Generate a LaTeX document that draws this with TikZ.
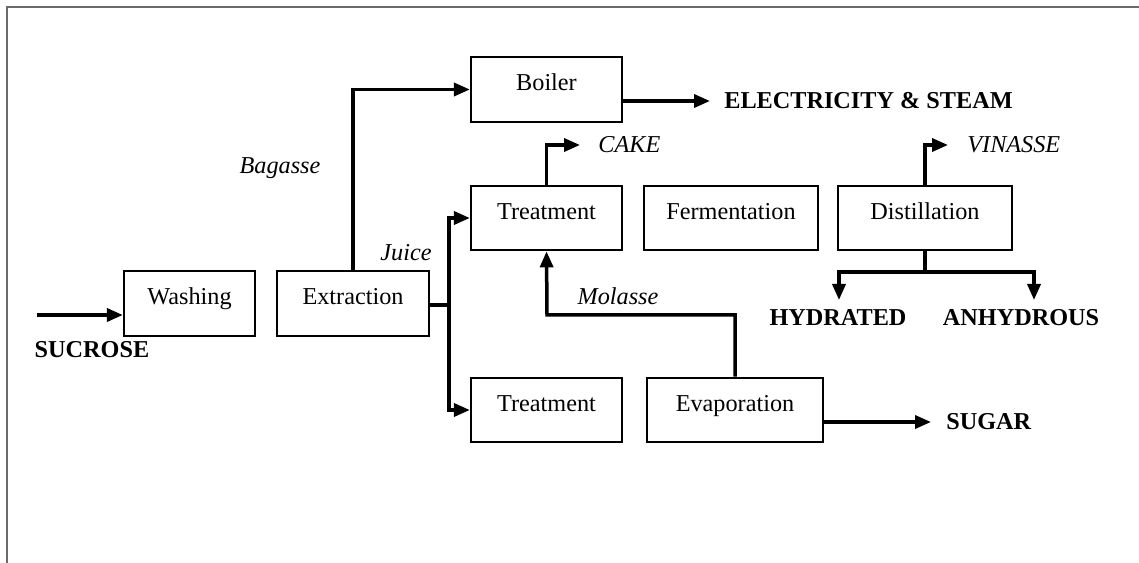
\documentclass[tikz,border=0pt]{standalone}
\usepackage{fontspec}
\setmainfont{Liberation Serif}
\usetikzlibrary{arrows.meta}
\definecolor{framegray}{HTML}{6B6B6B}
\newcommand{\diagfont}{\fontsize{13.8}{16}\selectfont}
\begin{document}
\begin{tikzpicture}[x=0.02cm, y=-0.02cm, font=\diagfont,
	box/.style={draw=black, text=black, shape=rectangle, line width=0.045cm, minimum height=1.29cm, text height=0.7em, text depth=0.58em},
	flow/.style={line width=0.07cm, -{Triangle[length=0.32cm, width=0.26cm]}},
	link/.style={line width=0.07cm},
	outname/.style={inner sep=0pt, font=\diagfont\bfseries},
	byname/.style={inner sep=0pt, font=\diagfont\itshape}]
	\useasboundingbox (0,0) rectangle (1139,563);
	\draw[framegray, line width=0.04cm] (7,563) -- (7,7) -- (1139,7);

	\node[box, minimum width=2.62cm] (washing) at (189.5,303.5) {Washing};
	\node[box, minimum width=3.04cm] (extraction) at (353,303.5) {Extraction};
	\node[box, minimum width=3.02cm] (boiler) at (546.5,89.5) {Boiler};
	\node[box, minimum width=3.02cm] (treatA) at (546.5,218) {Treatment};
	\node[box, minimum width=3.48cm] (fermentation) at (731,218) {Fermentation};
	\node[box, minimum width=3.48cm] (distillation) at (925,218) {Distillation};
	\node[box, minimum width=3.02cm] (treatB) at (546.5,410) {Treatment};
	\node[box, minimum width=3.52cm] (evaporation) at (735,410) {Evaporation};

	\node[outname] (sucrose) at (92,350) {SUCROSE};
	\node[outname, anchor=west] (electricity) at (724,101) {ELECTRICITY \& STEAM};
	\node[byname, anchor=west] (cake) at (598,145) {CAKE};
	\node[byname, anchor=west] (vinasse) at (967,145) {VINASSE};
	\node[byname] (bagasse) at (280,168) {Bagasse};
	\node[byname] (juice) at (406,253) {Juice};
	\node[byname] (molasse) at (618,296) {Molasse};
	\node[outname] (hydrated) at (838,318) {HYDRATED};
	\node[outname] (anhydrous) at (1021,318) {ANHYDROUS};
	\node[outname, anchor=west] (sugar) at (946,422) {SUGAR};

	\coordinate (feed) at (37,315);
	\coordinate (juicesplit) at (449,305);
	\coordinate (molbend) at (547,315);
	\coordinate (distsplit) at (925,272);
	\coordinate (hydend) at (839,300);
	\coordinate (anhend) at (1034,300);

	\draw[flow] (feed) -- (feed -| washing.west);
	\draw[flow] (extraction.north) |- (boiler.west);
	\draw[flow] (boiler.east |- electricity.west) -- ([xshift=-0.28cm]electricity.west);
	\draw[link] (extraction.east |- juicesplit) -- (juicesplit);
	\draw[flow] (juicesplit) |- (treatA.west);
	\draw[flow] (juicesplit) |- (treatB.west);
	\draw[flow] (treatA.north) |- ([xshift=-0.36cm]cake.west);
	\draw[flow] (evaporation.north) |- (molbend) -- (treatA.south);
	\draw[flow] (distillation.north) |- ([xshift=-0.38cm]vinasse.west);
	\draw[link] (distillation.south) -- (distsplit);
	\draw[flow] (distsplit) -| (hydend);
	\draw[flow] (distsplit) -| (anhend);
	\draw[flow] (evaporation.east |- sugar.west) -- ([xshift=-0.3cm]sugar.west);
\end{tikzpicture}
\end{document}
